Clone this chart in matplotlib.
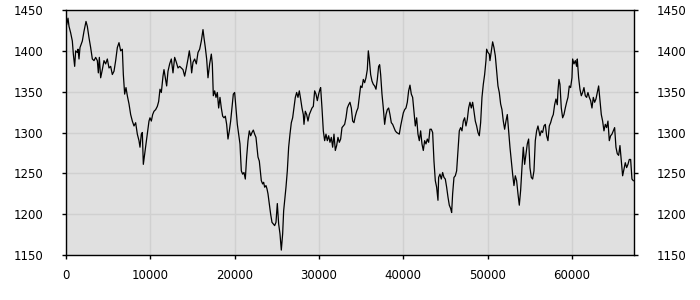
import matplotlib
matplotlib.use("Agg")
import matplotlib.pyplot as plt

# values (x position, level)
x_vals = [
    0, 79, 237, 356, 553, 751, 870, 1028, 1146, 1344, 1423, 1542, 1660, 1937, 2135,
    2372, 2530, 2728, 2925, 3123, 3321, 3518, 3716, 3835, 3953, 4111, 4309, 4507,
    4704, 4902, 5100, 5297, 5495, 5693, 5890, 6088, 6286, 6483, 6681, 6800, 6958,
    7116, 7274, 7472, 7669, 7867, 8065, 8262, 8460, 8658, 8776, 8935, 9053, 9172,
    9330, 9488, 9646, 9844, 9962, 10121, 10279, 10437, 10634, 10832, 10990, 11148,
    11307, 11504, 11623, 11781, 11939, 12097, 12295, 12492, 12690, 12888, 13086,
    13283, 13481, 13679, 13876, 14074, 14272, 14469, 14627, 14785, 14904, 15062,
    15260, 15458, 15655, 15853, 16051, 16248, 16367, 16525, 16683, 16841, 17039,
    17236, 17355, 17474, 17632, 17790, 17948, 18106, 18264, 18422, 18581, 18739,
    18897, 19055, 19213, 19371, 19529, 19688, 19846, 20004, 20162, 20320, 20478,
    20636, 20795, 20953, 21111, 21269, 21427, 21585, 21743, 21902, 22060, 22218,
    22376, 22534, 22653, 22771, 22929, 23048, 23166, 23325, 23443, 23562, 23720,
    23839, 23957, 24115, 24273, 24432, 24590, 24748, 24906, 25064, 25222, 25380,
    25538, 25697, 25815, 25934, 26092, 26250, 26408, 26566, 26725, 26883, 27041,
    27199, 27357, 27515, 27673, 27831, 27990, 28148, 28227, 28385, 28543, 28701,
    28859, 29017, 29176, 29334, 29492, 29650, 29808, 29966, 30124, 30203, 30362,
    30520, 30678, 30836, 30994, 31152, 31310, 31469, 31627, 31785, 31943, 32101,
    32259, 32417, 32576, 32734, 32892, 33050, 33208, 33366, 33524, 33682, 33841,
    33999, 34157, 34315, 34473, 34631, 34789, 34947, 35106, 35264, 35422, 35580,
    35738, 35857, 35975, 36133, 36292, 36450, 36608, 36766, 36924, 37082, 37201,
    37320, 37478, 37636, 37794, 37952, 38110, 38268, 38426, 38585, 38743, 38901,
    39059, 39217, 39375, 39533, 39692, 39850, 40008, 40166, 40324, 40482, 40640,
    40798, 40957, 41115, 41273, 41431, 41589, 41747, 41905, 42064, 42222, 42380,
    42538, 42696, 42854, 43012, 43170, 43329, 43487, 43645, 43803, 43961, 44119,
    44198, 44356, 44514, 44673, 44831, 44989, 45147, 45305, 45463, 45621, 45740,
    45859, 46017, 46175, 46333, 46491, 46649, 46807, 46966, 47124, 47282, 47440,
    47598, 47756, 47914, 48072, 48231, 48389, 48547, 48705, 48863, 49021, 49179,
    49338, 49496, 49654, 49812, 49891, 50049, 50207, 50286, 50445, 50603, 50761,
    50919, 51077, 51235, 51393, 51551, 51710, 51868, 52026, 52184, 52342, 52500,
    52658, 52817, 52975, 53133, 53291, 53449, 53607, 53765, 53923, 54082, 54240,
    54398, 54556, 54714, 54872, 55030, 55189, 55347, 55505, 55663, 55821, 55979,
    56216, 56375, 56533, 56691, 56849, 57007, 57165, 57323, 57482, 57640, 57798,
    57956, 58114, 58272, 58351, 58470, 58588, 58746, 58905, 59063, 59221, 59379,
    59537, 59695, 59853, 60012, 60091, 60249, 60407, 60565, 60644, 60802, 60960,
    61119, 61277, 61435, 61593, 61751, 61909, 62068, 62226, 62384, 62542, 62700,
    62858, 63016, 63175, 63333, 63491, 63649, 63807, 63965, 64123, 64281, 64440,
    64598, 64756, 64914, 65072, 65230, 65388, 65547, 65705, 65863, 66021, 66179,
    66337, 66496, 66654, 66812, 66970, 67128, 67286,
]
y_vals = [
    1430, 1432, 1440, 1430, 1422, 1412, 1396, 1381, 1400, 1398, 1402, 1390, 1404, 1412, 1424,
    1436, 1430, 1416, 1404, 1390, 1388, 1392, 1388, 1373, 1392, 1367, 1377, 1388,
    1384, 1390, 1379, 1381, 1371, 1375, 1388, 1404, 1410, 1400, 1402, 1371, 1347,
    1355, 1345, 1335, 1322, 1314, 1308, 1312, 1298, 1290, 1282, 1298, 1300, 1261,
    1274, 1286, 1298, 1314, 1318, 1314, 1322, 1326, 1328, 1332, 1338, 1353,
    1349, 1369, 1377, 1367, 1357, 1375, 1384, 1390, 1373, 1392, 1386,
    1379, 1381, 1379, 1377, 1369, 1379, 1390, 1400, 1388, 1373, 1386,
    1390, 1384, 1398, 1402, 1412, 1426, 1416, 1404, 1390, 1367, 1384,
    1396, 1384, 1345, 1351, 1343, 1349, 1330, 1343, 1330, 1320, 1318,
    1320, 1310, 1292, 1302, 1314, 1330, 1347, 1349, 1330, 1310, 1298,
    1286, 1253, 1249, 1251, 1243, 1270, 1290, 1302, 1296, 1300, 1303,
    1298, 1294, 1282, 1270, 1265, 1253, 1241, 1237, 1239, 1233, 1235,
    1231, 1225, 1213, 1200, 1190, 1188, 1186, 1190, 1213, 1188, 1176,
    1156, 1176, 1204, 1217, 1233, 1253, 1282, 1298, 1312, 1318, 1330,
    1343, 1349, 1343, 1351, 1341, 1330, 1322, 1310, 1326, 1322, 1314,
    1322, 1326, 1330, 1332, 1351, 1347, 1339, 1347, 1353, 1355, 1330,
    1302, 1290, 1298, 1290, 1296, 1288, 1294, 1282, 1298, 1278, 1284,
    1294, 1288, 1292, 1306, 1308, 1310, 1318, 1330, 1334, 1337, 1330,
    1314, 1312, 1320, 1326, 1330, 1343, 1357, 1355, 1365, 1361, 1367,
    1377, 1400, 1390, 1371, 1363, 1359, 1357, 1353, 1365, 1381, 1383,
    1371, 1347, 1330, 1310, 1322, 1328, 1330, 1322, 1312, 1310, 1306,
    1302, 1300, 1299, 1298, 1308, 1316, 1324, 1328, 1330, 1337, 1351,
    1358, 1347, 1343, 1326, 1308, 1318, 1298, 1290, 1302, 1286, 1278,
    1290, 1286, 1292, 1288, 1304, 1304, 1300, 1265, 1241, 1233, 1217,
    1245, 1249, 1243, 1251, 1245, 1243, 1233, 1221, 1211, 1207, 1202,
    1225, 1245, 1247, 1253, 1278, 1302, 1306, 1302, 1314, 1318, 1308,
    1316, 1330, 1337, 1330, 1337, 1326, 1314, 1308, 1300, 1296, 1312,
    1343, 1359, 1371, 1388, 1402, 1398, 1396, 1388, 1400, 1411, 1404,
    1394, 1375, 1357, 1349, 1335, 1328, 1314, 1304, 1314, 1322, 1302,
    1282, 1265, 1249, 1235, 1247, 1241, 1225, 1211, 1229, 1257, 1282,
    1261, 1274, 1286, 1292, 1257, 1245, 1243, 1253, 1290, 1302, 1308,
    1296, 1302, 1300, 1308, 1310, 1296, 1290, 1308, 1312, 1318, 1322,
    1334, 1341, 1334, 1351, 1365, 1359, 1330, 1318, 1322, 1330, 1337,
    1343, 1357, 1355, 1367, 1390, 1384, 1388, 1381, 1390, 1367, 1353,
    1345, 1349, 1355, 1345, 1343, 1349, 1343, 1339, 1330, 1343, 1337,
    1341, 1349, 1357, 1339, 1322, 1314, 1302, 1310, 1306, 1314, 1290,
    1296, 1298, 1302, 1306, 1282, 1274, 1272, 1284, 1265, 1247, 1255,
    1263, 1257, 1261, 1267, 1267, 1243, 1241,
]

x_ticks = [0, 10000, 20000, 30000, 40000, 50000, 60000]
y_ticks = [1150, 1200, 1250, 1300, 1350, 1400, 1450]

fig = plt.figure(figsize=(7, 3), dpi=100)
ax = fig.add_axes([66 / 700, 45 / 300, 568 / 700, 245 / 300])
ax.set_facecolor("#e0e0e0")

ax.plot(x_vals, y_vals, color="black", linewidth=0.9)

ax.set_xlim(0, 67370)
ax.set_ylim(1150, 1450)
ax.set_xticks(x_ticks)
ax.set_yticks(y_ticks)
ax.set_xticklabels([str(t) for t in x_ticks])
ax.set_yticklabels([str(t) for t in y_ticks])

ax.grid(True, color="#d0d0d0", linewidth=1)
ax.set_axisbelow(True)
for side in ["left", "right", "top", "bottom"]:
    ax.spines[side].set_color("black")
    ax.spines[side].set_linewidth(1)

ax.tick_params(axis="y", left=True, right=True, labelleft=True, labelright=True,
               direction="out", length=3, width=1, pad=13, labelsize=8.5)
ax.tick_params(axis="x", direction="out", length=3, width=1, pad=7, labelsize=8.5)

fig.savefig("out.png", dpi=100)
